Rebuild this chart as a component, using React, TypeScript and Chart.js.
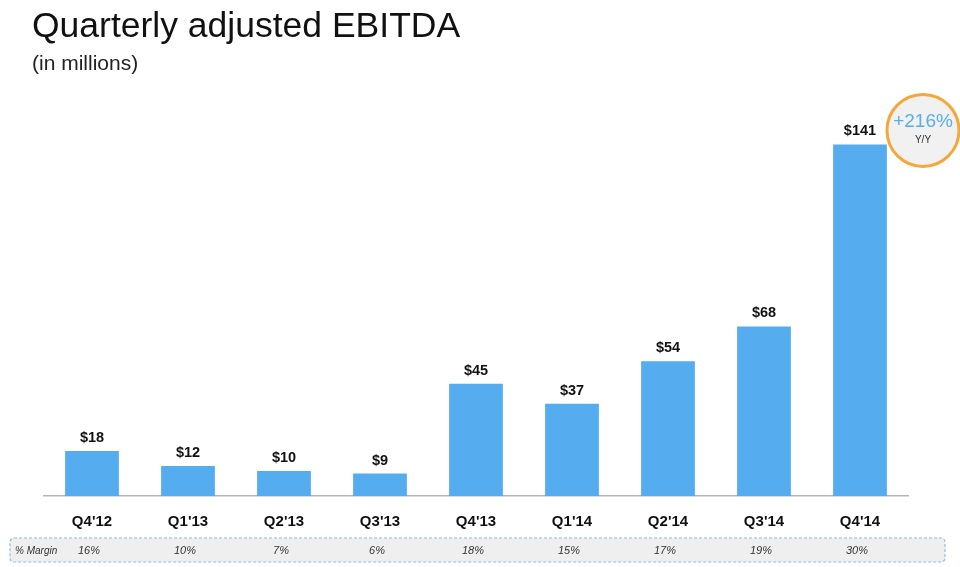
import React, { useEffect, useRef } from "react";
import { Chart, registerables } from "chart.js";

Chart.register(...registerables);

const categories = ["Q4'12", "Q1'13", "Q2'13", "Q3'13", "Q4'13", "Q1'14", "Q2'14", "Q3'14", "Q4'14"];
const ebitda = [18, 12, 10, 9, 45, 37, 54, 68, 141];
const valueLabels = ["$18", "$12", "$10", "$9", "$45", "$37", "$54", "$68", "$141"];
const margins = ["16%", "10%", "7%", "6%", "18%", "15%", "17%", "19%", "30%"];
const titleText = "Quarterly adjusted EBITDA";
const subtitleText = "(in millions)";
const badgeMain = "+216%";
const badgeSub = "Y/Y";
const marginLabel = "% Margin";

const FONT = "'Liberation Sans', Arial, Helvetica, sans-serif";
const BAR_COLOR = "#55acee";

const decorPlugin = {
  id: "decor",
  afterDraw(chart: any) {
    const ctx = chart.ctx;
    const meta = chart.getDatasetMeta(0);
    const xScale = chart.scales.x;
    ctx.save();

    // Title
    ctx.fillStyle = "#111";
    ctx.textAlign = "left";
    ctx.textBaseline = "alphabetic";
    ctx.font = `35.5px ${FONT}`;
    ctx.fillText(titleText, 32, 37);
    ctx.font = `21px ${FONT}`;
    ctx.fillStyle = "#222";
    ctx.fillText(subtitleText, 32, 70);

    // Value labels
    ctx.font = `bold 14.5px ${FONT}`;
    ctx.fillStyle = "#111";
    ctx.textAlign = "center";
    ctx.textBaseline = "middle";
    meta.data.forEach((bar: any, i: number) => {
      ctx.fillText(valueLabels[i], bar.x, bar.y - 13);
    });

    // Badge
    const last = meta.data[meta.data.length - 1];
    const cx = last.x + 63;
    const cy = last.y - 14;
    ctx.beginPath();
    ctx.arc(cx, cy, 36, 0, Math.PI * 2);
    ctx.fillStyle = "#f1f1f1";
    ctx.fill();
    ctx.lineWidth = 3;
    ctx.strokeStyle = "#f5a83a";
    ctx.stroke();
    ctx.fillStyle = "#5aaee8";
    ctx.font = `19px ${FONT}`;
    ctx.fillText(badgeMain, cx, cy - 9);
    ctx.fillStyle = "#333";
    ctx.font = `10px ${FONT}`;
    ctx.fillText(badgeSub, cx, cy + 10);

    // Margin row
    const rx = 10, ry = 538, rw = 935, rh = 24;
    ctx.beginPath();
    if ((ctx as any).roundRect) (ctx as any).roundRect(rx, ry, rw, rh, 4);
    else ctx.rect(rx, ry, rw, rh);
    ctx.fillStyle = "#efefef";
    ctx.fill();
    ctx.setLineDash([3, 2]);
    ctx.lineWidth = 1.2;
    ctx.strokeStyle = "#8dbde6";
    ctx.stroke();
    ctx.setLineDash([]);

    ctx.fillStyle = "#333";
    ctx.textAlign = "left";
    ctx.font = `italic 10px ${FONT}`;
    ctx.fillText(marginLabel, 15, 551);
    ctx.textAlign = "center";
    ctx.font = `italic 11px ${FONT}`;
    margins.forEach((m, i) => {
      ctx.fillText(m, xScale.getPixelForValue(i) - 3, 551);
    });

    ctx.restore();
  },
};

export default function App() {
  const ref = useRef<HTMLCanvasElement>(null);
  useEffect(() => {
    if (!ref.current) return;
    const chart = new Chart(ref.current, {
      type: "bar",
      data: {
        labels: categories,
        datasets: [
          {
            data: ebitda,
            backgroundColor: BAR_COLOR,
            barPercentage: 0.56,
            categoryPercentage: 1,
          },
        ],
      },
      options: {
        animation: false,
        responsive: false,
        maintainAspectRatio: false,
        layout: { padding: { left: 44, right: 52, top: 97, bottom: 19 } },
        plugins: {
          legend: { display: false },
          tooltip: { enabled: false },
          title: { display: false },
        },
        scales: {
          x: {
            grid: { display: false, drawTicks: false },
            border: { display: true, color: "#b5b5b5", width: 1.5 },
            ticks: {
              color: "#111",
              font: { family: FONT, size: 15, weight: "bold" },
              padding: 17,
              maxRotation: 0,
            },
          },
          y: {
            display: false,
            min: 0,
            max: 160,
          },
        },
      },
      plugins: [decorPlugin],
    });
    return () => chart.destroy();
  }, []);
  return (
    <div style={{ position: "absolute", left: 0, top: 0, width: 960, height: 567, background: "#fff" }}>
      <canvas ref={ref} width={960} height={567} style={{ width: 960, height: 567 }} />
    </div>
  );
}
